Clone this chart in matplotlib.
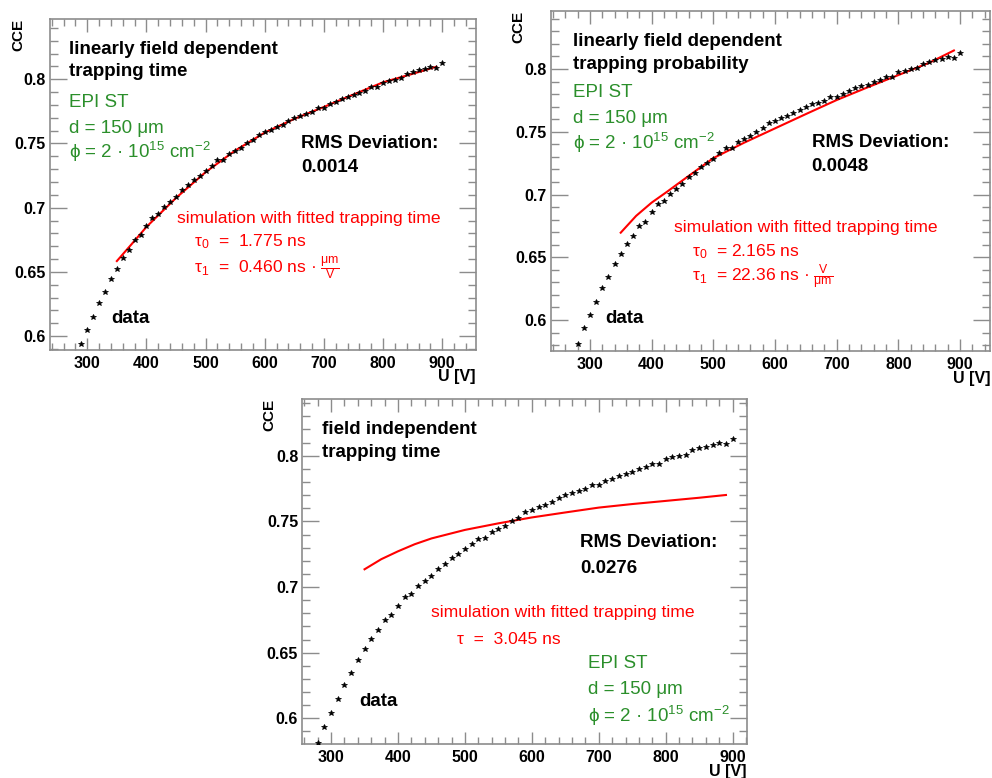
import matplotlib
matplotlib.use("Agg")
import matplotlib.pyplot as plt
from matplotlib.ticker import MultipleLocator

plt.rcParams['font.family'] = ['Liberation Sans', 'DejaVu Sans']
plt.rcParams['mathtext.default'] = 'regular'

# ---------------- data ----------------
voltage = [280, 290, 300, 310, 320, 330, 340, 350, 360, 370, 380, 390, 400, 410, 420,
           430, 440, 450, 460, 470, 480, 490, 500, 510, 520, 530, 540, 550, 560, 570,
           580, 590, 600, 610, 620, 630, 640, 650, 660, 670, 680, 690, 700, 710, 720,
           730, 740, 750, 760, 770, 780, 790, 800, 810, 820, 830, 840, 850, 860, 870,
           880, 890, 900]
cce = [0.5810, 0.5936, 0.6043, 0.6147, 0.6256, 0.6343, 0.6444, 0.6526, 0.6604, 0.6671,
       0.6747, 0.6785, 0.6858, 0.6922, 0.6947, 0.7008, 0.7048, 0.7084, 0.7137, 0.7175,
       0.7219, 0.7249, 0.7287, 0.7328, 0.7368, 0.7373, 0.7421, 0.7442, 0.7465, 0.7500,
       0.7528, 0.7569, 0.7586, 0.7607, 0.7625, 0.7647, 0.7676, 0.7698, 0.7718, 0.7733,
       0.7749, 0.7775, 0.7775, 0.7805, 0.7823, 0.7845, 0.7861, 0.7876, 0.7896, 0.7912,
       0.7937, 0.7937, 0.7975, 0.7988, 0.7998, 0.8008, 0.8043, 0.8059, 0.8069, 0.8079,
       0.8097, 0.8087, 0.8127]

sim1_u = [350, 375, 400, 450, 500, 550, 600, 650, 700, 750, 800, 850, 890]
sim1_cce = [0.6584, 0.6716, 0.6850, 0.7076, 0.7277, 0.7445, 0.7585, 0.7692, 0.7785,
            0.7882, 0.7977, 0.8043, 0.8098]

sim2_u = [350, 375, 400, 425, 450, 500, 550, 600, 650, 700, 750, 800, 850, 890]
sim2_cce = [0.6696, 0.6830, 0.6935, 0.7022, 0.7112, 0.7290, 0.7413, 0.7527, 0.7641,
            0.7753, 0.7854, 0.7952, 0.8050, 0.8148]

sim3_u = [350, 375, 400, 425, 450, 500, 550, 600, 650, 700, 750, 800, 850, 890]
sim3_cce = [0.7135, 0.7212, 0.7272, 0.7326, 0.7370, 0.7435, 0.7485, 0.7530, 0.7568,
            0.7605, 0.7632, 0.7656, 0.7680, 0.7701]

x_ticks = [300, 400, 500, 600, 700, 800, 900]
x_tick_labels = ['300', '400', '500', '600', '700', '800', '900']
y_ticks = [0.6, 0.65, 0.7, 0.75, 0.8]
y_tick_labels = ['0.6', '0.65', '0.7', '0.75', '0.8']

GREEN = '#2b8f2b'
RED = '#ff0000'
FRAME = '#8c8c8c'

fig = plt.figure(figsize=(9.92, 7.78), dpi=100)
fig.patch.set_facecolor('white')

panels = [
    dict(rect=[50/992, 1-350/778, 426/992, 331/778], xlim=(237, 957), ylim=(0.5891, 0.847),
         su=sim1_u, sc=sim1_cce),
    dict(rect=[551/992, 1-351/778, 439.3/992, 340.3/778], xlim=(237, 949), ylim=(0.5753, 0.8465),
         su=sim2_u, sc=sim2_cce),
    dict(rect=[302.3/992, 1-744/778, 444.4/992, 344.7/778], xlim=(257, 921), ylim=(0.5804, 0.843),
         su=sim3_u, sc=sim3_cce),
]

axes = []
for p in panels:
    ax = fig.add_axes(p['rect'])
    ax.set_xlim(*p['xlim'])
    ax.set_ylim(*p['ylim'])
    ax.plot(voltage, cce, linestyle='none', marker='*', markersize=4.0, color='black',
            markeredgewidth=0.5, zorder=3, clip_on=True)
    ax.plot(p['su'], p['sc'], color=RED, lw=1.5, zorder=2)
    ax.set_xticks(x_ticks)
    ax.set_xticklabels(x_tick_labels)
    ax.set_yticks(y_ticks)
    ax.set_yticklabels(y_tick_labels)
    ax.xaxis.set_minor_locator(MultipleLocator(20))
    ax.yaxis.set_minor_locator(MultipleLocator(0.01))
    ax.tick_params(axis='both', which='both', direction='in', top=True, right=True,
                   color=FRAME, width=1.0)
    ax.tick_params(axis='x', which='major', length=9, pad=4)
    ax.tick_params(axis='x', which='minor', length=5)
    ax.tick_params(axis='y', which='major', length=12, pad=3)
    ax.tick_params(axis='y', which='minor', length=6)
    for lab in ax.get_xticklabels() + ax.get_yticklabels():
        lab.set_fontweight('bold')
        lab.set_fontsize(11.5)
    for s in ax.spines.values():
        s.set_color(FRAME)
        s.set_linewidth(1.2)
    ax.text(-0.075, 1.0, 'CCE', rotation=90, ha='center', va='top', fontsize=11,
            fontweight='bold', transform=ax.transAxes)
    ax.text(1.0, -0.094, 'U [V]', ha='right', va='baseline', fontsize=11.5,
            fontweight='bold', transform=ax.transAxes)
    axes.append(ax)

TS = 13.5
RS = 12.6
phi_text = 'ϕ = 2 · 10$^{15}$ cm$^{-2}$'

# Panel 1
ax = axes[0]
ax.text(0.044, 0.893, 'linearly field dependent', fontsize=TS, fontweight='bold', transform=ax.transAxes)
ax.text(0.044, 0.828, 'trapping time', fontsize=TS, fontweight='bold', transform=ax.transAxes)
ax.text(0.044, 0.735, 'EPI ST', fontsize=TS, color=GREEN, transform=ax.transAxes)
ax.text(0.044, 0.656, 'd = 150 μm', fontsize=TS, color=GREEN, transform=ax.transAxes)
ax.text(0.044, 0.581, phi_text, fontsize=TS, color=GREEN, transform=ax.transAxes)
ax.text(0.589, 0.609, 'RMS Deviation:', fontsize=TS, fontweight='bold', transform=ax.transAxes)
ax.text(0.589, 0.539, '0.0014', fontsize=TS, fontweight='bold', transform=ax.transAxes)
ax.text(0.297, 0.385, 'simulation with fitted trapping time', fontsize=RS, color=RED, transform=ax.transAxes)
ax.text(0.339, 0.312, 'τ$_0$  =  1.775 ns', fontsize=RS, color=RED, transform=ax.transAxes)
ax.text(0.339, 0.2335, r'τ$_1$  =  0.460 ns · $\frac{μm}{V}$', fontsize=RS, color=RED, transform=ax.transAxes)
ax.text(0.143, 0.081, 'data', fontsize=TS, fontweight='bold', transform=ax.transAxes)

# Panel 2
ax = axes[1]
ax.text(0.049, 0.896, 'linearly field dependent', fontsize=TS, fontweight='bold', transform=ax.transAxes)
ax.text(0.049, 0.829, 'trapping probability', fontsize=TS, fontweight='bold', transform=ax.transAxes)
ax.text(0.049, 0.747, 'EPI ST', fontsize=TS, color=GREEN, transform=ax.transAxes)
ax.text(0.049, 0.669, 'd = 150 μm', fontsize=TS, color=GREEN, transform=ax.transAxes)
ax.text(0.049, 0.594, phi_text, fontsize=TS, color=GREEN, transform=ax.transAxes)
ax.text(0.593, 0.600, 'RMS Deviation:', fontsize=TS, fontweight='bold', transform=ax.transAxes)
ax.text(0.593, 0.529, '0.0048', fontsize=TS, fontweight='bold', transform=ax.transAxes)
ax.text(0.280, 0.351, 'simulation with fitted trapping time', fontsize=RS, color=RED, transform=ax.transAxes)
ax.text(0.322, 0.277, 'τ$_0$  = 2.165 ns', fontsize=RS, color=RED, transform=ax.transAxes)
ax.text(0.322, 0.201, r'τ$_1$  = 22.36 ns · $\frac{V}{μm}$', fontsize=RS, color=RED, transform=ax.transAxes)
ax.text(0.124, 0.083, 'data', fontsize=TS, fontweight='bold', transform=ax.transAxes)

# Panel 3
ax = axes[2]
ax.text(0.045, 0.899, 'field independent', fontsize=TS, fontweight='bold', transform=ax.transAxes)
ax.text(0.045, 0.8335, 'trapping time', fontsize=TS, fontweight='bold', transform=ax.transAxes)
ax.text(0.625, 0.572, 'RMS Deviation:', fontsize=TS, fontweight='bold', transform=ax.transAxes)
ax.text(0.625, 0.497, '0.0276', fontsize=TS, fontweight='bold', transform=ax.transAxes)
ax.text(0.289, 0.369, 'simulation with fitted trapping time', fontsize=RS, color=RED, transform=ax.transAxes)
ax.text(0.349, 0.289, 'τ  =  3.045 ns', fontsize=RS, color=RED, transform=ax.transAxes)
ax.text(0.642, 0.221, 'EPI ST', fontsize=TS, color=GREEN, transform=ax.transAxes)
ax.text(0.642, 0.144, 'd = 150 μm', fontsize=TS, color=GREEN, transform=ax.transAxes)
ax.text(0.642, 0.065, phi_text, fontsize=TS, color=GREEN, transform=ax.transAxes)
ax.text(0.128, 0.111, 'data', fontsize=TS, fontweight='bold', transform=ax.transAxes)

fig.savefig('out.png', dpi=100, facecolor='white')
